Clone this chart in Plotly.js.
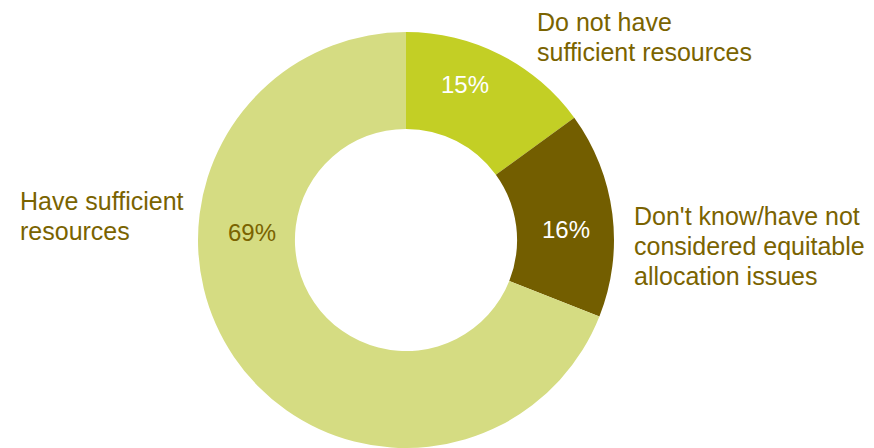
<!DOCTYPE html>
<html>
<head>
<meta charset="utf-8">
<script src="https://cdn.plot.ly/plotly-3.0.1.min.js"></script>
<style>html,body{margin:0;padding:0;background:#fff;}#chart{width:874px;height:448px;}</style>
</head>
<body>
<div id="chart"></div>
<script>
const categories = ["Do not have sufficient resources", "Don't know/have not considered equitable allocation issues", "Have sufficient resources"];
const labelLines = [["Do not have", "sufficient resources"], ["Don't know/have not", "considered equitable", "allocation issues"], ["Have sufficient", "resources"]];
const values = [15, 16, 69];
const colors = ["#C3CF25", "#735E00", "#D5DC82"];
const pctColors = ["#FFFFFF", "#FFFFFF", "#7A6300"];

const textColor = "#7A6300";
const font = "Liberation Sans, Arial, Helvetica, sans-serif";
const W = 874, H = 448;

// layout positions (pixels) for the outside labels and the percent labels
const labelPos = [[535, 22], [632, 216], [18, 201]];
const pctPos = [[465, 85], [566, 230], [252, 232]];
const lineStep = 30;

const total = values.reduce((a, b) => a + b, 0);
const annotations = [];
labelLines.forEach((lines, i) => {
  lines.forEach((ln, j) => {
    annotations.push({
      xref: "paper", yref: "paper",
      x: labelPos[i][0] / W, y: 1 - (labelPos[i][1] + j * lineStep) / H,
      xanchor: "left", yanchor: "middle", showarrow: false,
      text: ln, font: {family: font, size: 25, color: textColor}
    });
  });
  annotations.push({
    xref: "paper", yref: "paper",
    x: pctPos[i][0] / W, y: 1 - pctPos[i][1] / H,
    xanchor: "center", yanchor: "middle", showarrow: false,
    text: Math.round(values[i] / total * 100) + "%",
    font: {family: font, size: 24, color: pctColors[i]}
  });
});

const trace = {
  type: "pie",
  labels: categories,
  values: values,
  hole: 0.534,
  sort: false,
  direction: "clockwise",
  rotation: 0,
  textinfo: "none",
  hoverinfo: "label+percent",
  marker: {colors: colors, line: {width: 0}},
  domain: {x: [(406 - 208) / W, (406 + 208) / W], y: [0, (448 - 32) / H]},
  showlegend: false
};

Plotly.newPlot("chart", [trace], {
  width: W, height: H,
  margin: {l: 0, r: 0, t: 0, b: 0},
  paper_bgcolor: "#fff",
  showlegend: false,
  annotations: annotations
}, {displayModeBar: false, staticPlot: true});
</script>
</body>
</html>
